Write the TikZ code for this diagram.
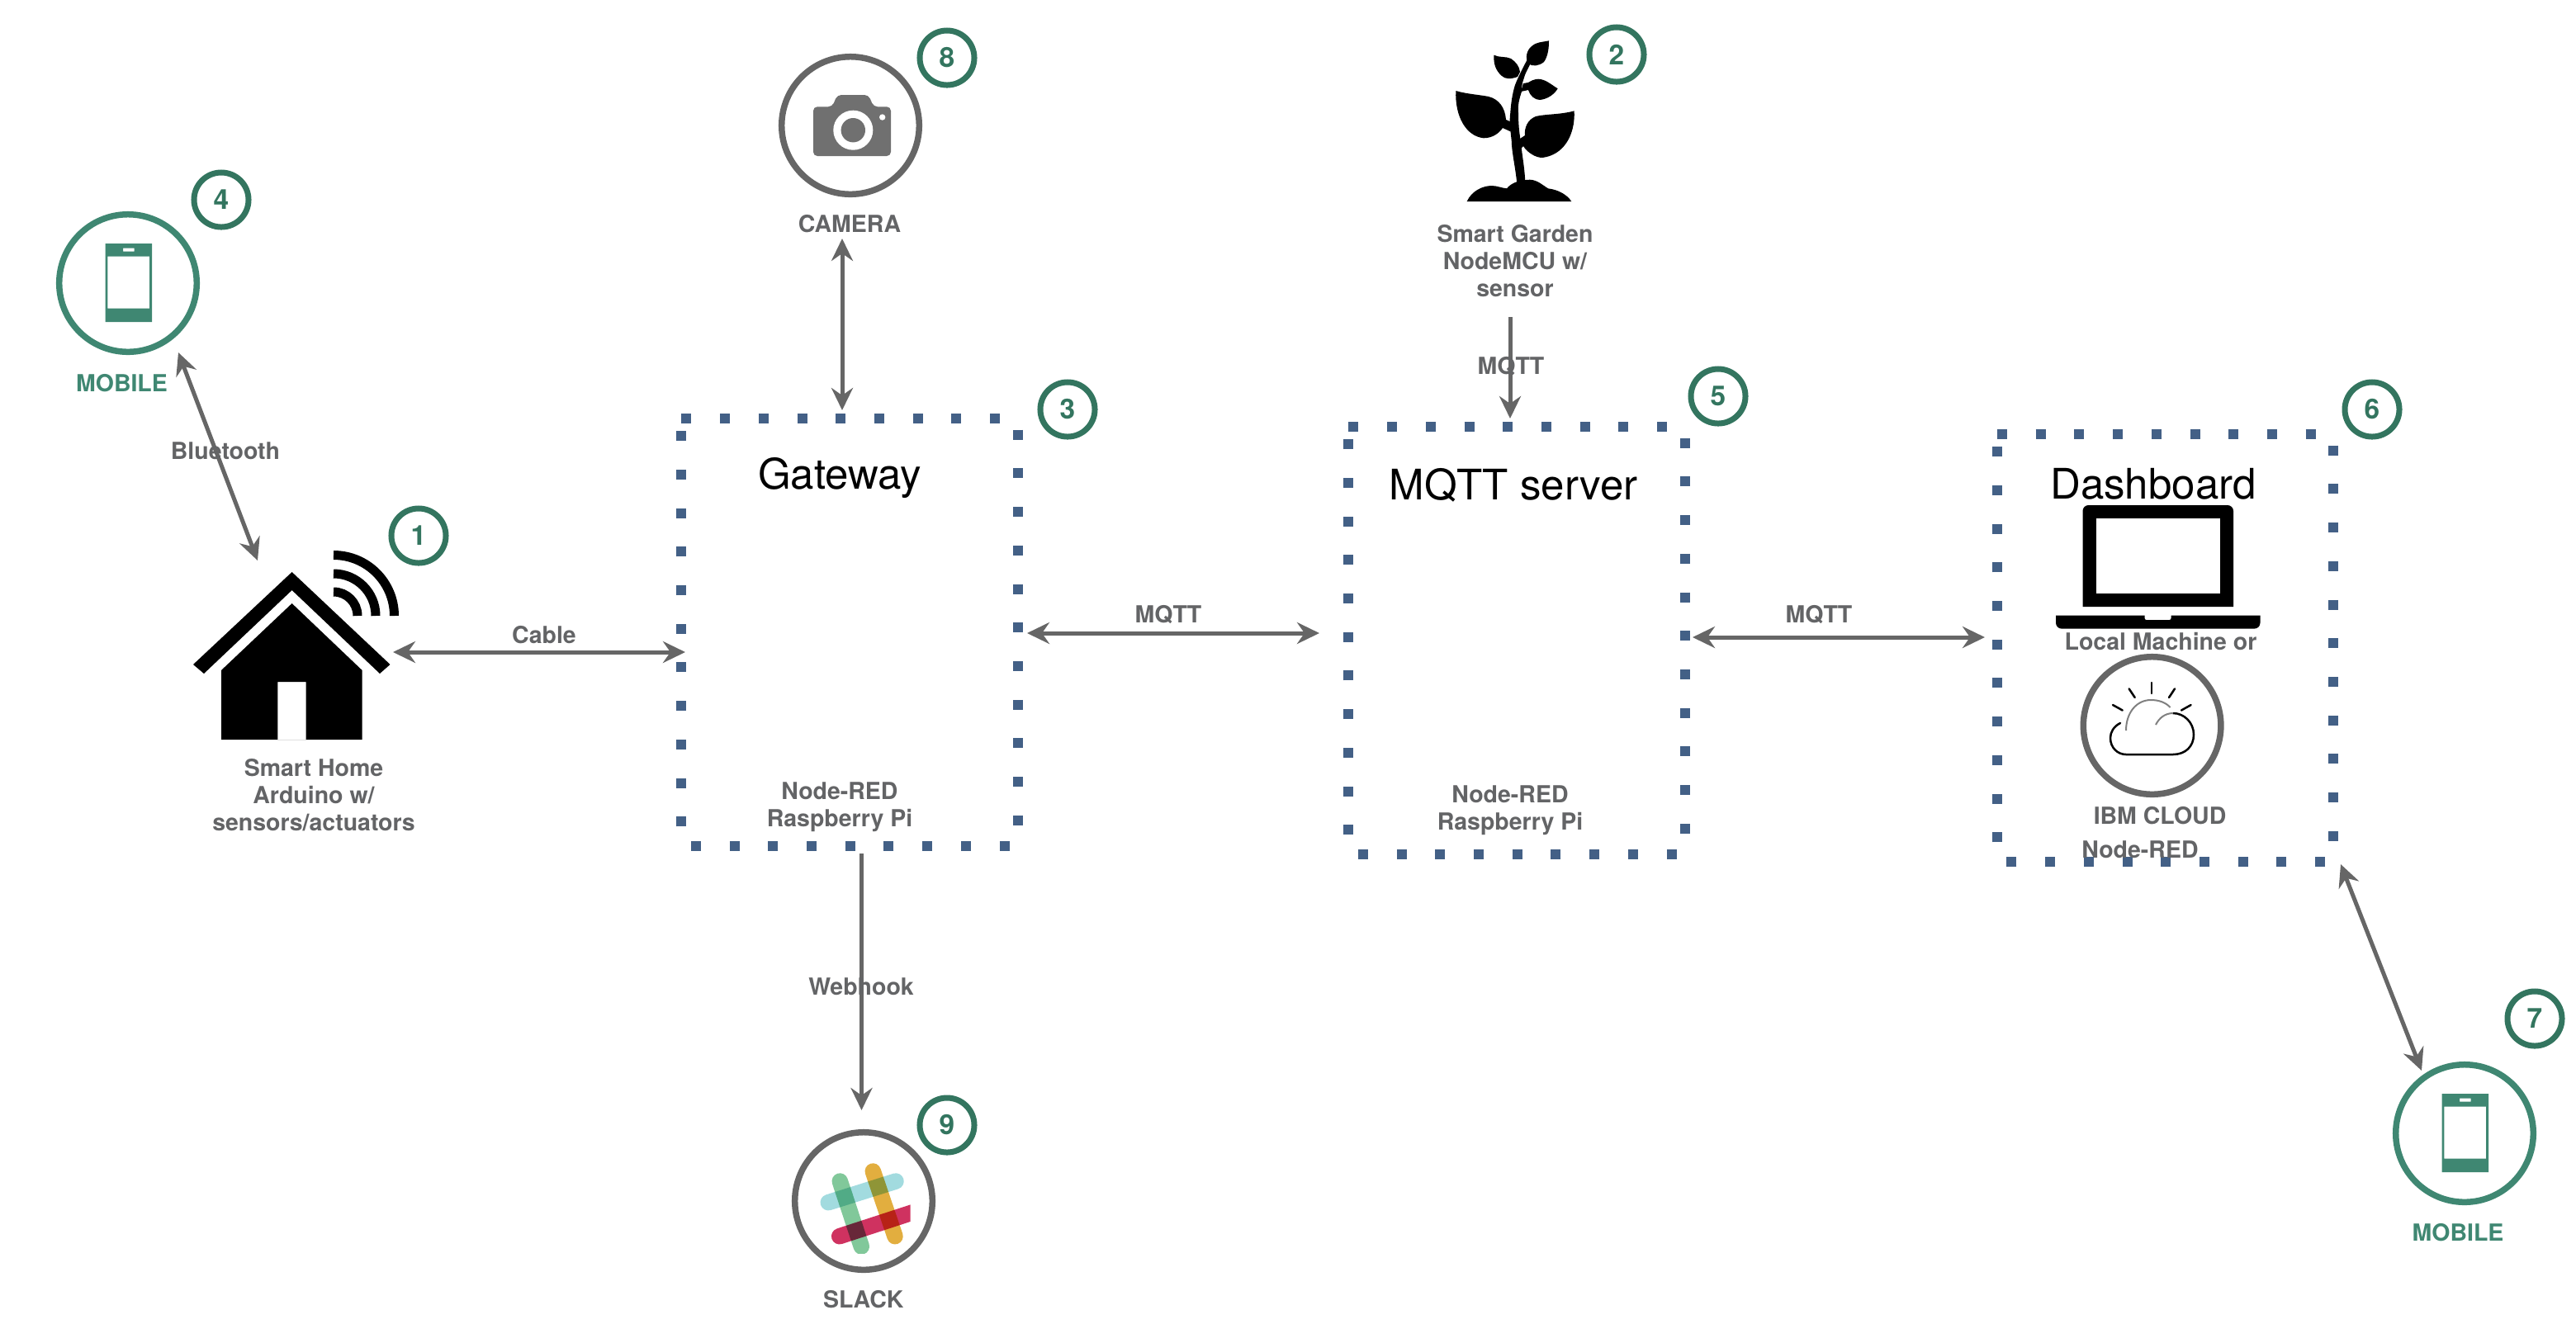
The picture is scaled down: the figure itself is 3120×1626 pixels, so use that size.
\documentclass[tikz,border=0pt]{standalone}
\usepackage{fontspec}
\setmainfont{TeX Gyre Heros}
\usetikzlibrary{arrows.meta}
\definecolor{badgegreen}{HTML}{33755F}
\definecolor{mobilegreen}{HTML}{3F8772}
\definecolor{labelgray}{HTML}{636466}
\definecolor{framegray}{HTML}{666666}
\definecolor{camgray}{HTML}{707070}
\definecolor{dotblue}{HTML}{436086}
\definecolor{slackblue}{HTML}{A2DBDF}
\definecolor{slackgreen}{HTML}{81C89A}
\definecolor{slackyellow}{HTML}{E2AE3F}
\definecolor{slackred}{HTML}{CF3260}
\tikzset{
  link/.style={line width=.05cm, draw=framegray, {Stealth[length=.27cm,width=.26cm,inset=.09cm]}-{Stealth[length=.27cm,width=.26cm,inset=.09cm]}},
  linkto/.style={line width=.05cm, draw=framegray, -{Stealth[length=.27cm,width=.26cm,inset=.09cm]}},
  lbl/.style={text=labelgray, align=center, inner sep=0, font=\fontsize{8.1}{9.4}\selectfont\bfseries},
  title/.style={inner sep=0, font=\fontsize{14.5}{16}\selectfont},
  badge/.style={circle, draw=badgegreen, line width=.07cm, minimum size=.66cm, inner sep=0, outer sep=0, text=badgegreen, font=\fontsize{9.5}{10}\selectfont\bfseries},
  ring/.style={circle, draw=#1, line width=.075cm, minimum size=1.665cm, inner sep=0, outer sep=0},
  boxarea/.style={rectangle, minimum width=4.07cm, minimum height=5.17cm, inner sep=0, outer sep=0},
  dotbox/.style={draw=dotblue, line width=.12cm, dash pattern=on .12cm off .347cm},
  slackbar/.style={line width=.195cm, line cap=round, draw=#1, blend mode=multiply},
  phone/.pic={
    \fill [mobilegreen, even odd rule] (-27.5,-48) rectangle (29,47) (-24.6,-32.5) rectangle (26,30.6) (-6,-42.3) rectangle (7.5,-38.5);
  }
}

\begin{document}
\begin{tikzpicture}[x=.01cm, y=-.01cm]
  \useasboundingbox (0,0) rectangle (3120,1626);

  % dotted frames
  \foreach \n/\x/\y in {gateway/1029/766, mqttserver/1837/776, dashboard/2622.5/785}
  {
    \node (\n) [boxarea] at (\x,\y) {};
    \draw [dotbox] (\n.north west) -- (\n.north east) -- (\n.south east) -- (\n.south west) -- cycle;
  }

  \node (gatewayname) [title] at (1017,579) {Gateway};
  \node (mqttname) [title] at (1833,588) {MQTT server};
  \node (dashname) [title] at (2608,586) {Dashboard};
  \node (gatewaysub) [lbl] at (1017,978) {Node-RED\\Raspberry Pi};
  \node (mqttsub) [lbl] at (1829,982) {Node-RED\\Raspberry Pi};

  % numbered badges
  \foreach \n/\x/\y in {1/507/649, 2/1958/66, 3/1293/496, 4/268/242, 5/2081/480, 6/2873/496, 7/3070/1234, 8/1147/70, 9/1147/1363}
  \node (badge\n) [badge] at (\x,\y) {\n};

  % mobiles
  \node (mobilea) [ring=mobilegreen] at (155,343) {};
  \pic at (mobilea) {phone};
  \node (mobilealbl) [lbl, text=mobilegreen] at (147.5,464) {MOBILE};
  \node (mobileb) [ring=mobilegreen] at (2985,1373) {};
  \pic at (mobileb) {phone};
  \node (mobileblbl) [lbl, text=mobilegreen] at (2977,1493) {MOBILE};

  % house
  \fill [even odd rule] (353.6,693) -- (472.5,805) -- (460,816) -- (353.6,715) -- (247,816) -- (234,805) -- cycle;
  \fill [even odd rule] (353.6,731) -- (438.6,812) -- (438.6,896) -- (268,896) -- (268,812) -- cycle
    (336.4,826) rectangle (370.7,896);
  \foreach \r in {29,51,73.5}
  \draw [line width=.11cm] (404,746-\r) .. controls (404+.552*\r,746-\r) and (404+\r,746-.552*\r) .. (404+\r,746);
  \node (homelbl) [lbl] at (380,963.5) {Smart Home\\Arduino w/\\sensors/actuators};

  % camera
  \node (camera) [ring=framegray] at (1030,152) {};
  \fill [camgray, rounded corners=1.4pt] (985,129.3) -- (1008,129.3) -- (1014,115) -- (1052,115) -- (1058,129.3) -- (1079,129.3) -- (1079,189) -- (985,189) -- cycle;
  \fill [white] (1033.3,157.7) circle [radius=.24cm];
  \fill [camgray] (1033.3,157.7) circle [radius=.147cm];
  \fill [white] (1068.7,142) circle [radius=.037cm];
  \node (cameralbl) [lbl] at (1029,271) {CAMERA};

  % plant
  \fill (1837.3,222) .. controls (1835,200) and (1831,185) .. (1830.7,170) .. controls (1829,155) and (1828,145) .. (1829.3,136.7) .. controls (1830,125) and (1832,112) .. (1835,103) .. controls (1838,95) and (1844,83) .. (1850,71.7) -- (1855,75) .. controls (1852,80) and (1849,86) .. (1847.3,90) .. controls (1845,97) and (1842,105) .. (1843.3,110) .. controls (1840,120) and (1838,128) .. (1839,136.7) .. controls (1839,150) and (1840,160) .. (1841.7,170) .. controls (1843,185) and (1847,205) .. (1847.3,222) -- cycle;
  \fill (1763.3,110) .. controls (1777,114) and (1790,114.5) .. (1803,117) .. controls (1815,120) and (1823,130) .. (1824,145) -- (1831,148) -- (1831,160) -- (1820,155) .. controls (1816,161) and (1808,167.3) .. (1797,167.3) .. controls (1775,165) and (1762,140) .. (1763.3,110) -- cycle;
  \fill (1906.7,134.3) .. controls (1890,139) and (1872,138) .. (1860,141) .. controls (1850,145) and (1846,155) .. (1847,164) -- (1841,168) -- (1842,180) -- (1845,177) .. controls (1850,185) and (1860,191) .. (1868,191) .. controls (1893,188) and (1908,165) .. (1906.7,134.3) -- cycle;
  \fill (1809.3,66.7) .. controls (1816,70) and (1824,68) .. (1830,71) .. controls (1836,75) and (1840,80) .. (1841,87) -- (1838,93) .. controls (1830,96) and (1823,96) .. (1819,92) .. controls (1811,85) and (1809,77) .. (1809.3,66.7) -- cycle;
  \fill (1876,49.3) .. controls (1868,51) and (1860,51) .. (1855,56) .. controls (1849,61) and (1847,70) .. (1851,77) .. controls (1856,81) and (1864,80) .. (1870,75) .. controls (1875,68) and (1876,58) .. (1876,49.3) -- cycle;
  \fill (1886.7,107.3) .. controls (1878,102) and (1872,96) .. (1863,95.7) .. controls (1858,96) and (1854,98) .. (1851,100) -- (1845,101) -- (1842,111) -- (1851,109) .. controls (1853,116) and (1859,121) .. (1865,121) .. controls (1874,120) and (1882,115) .. (1886.7,107.3) -- cycle;
  \fill (1776.7,244) .. controls (1782,232) and (1795,225) .. (1806.7,225) .. controls (1813,225) and (1820,228) .. (1825,228.3) .. controls (1830,222) and (1840,217.7) .. (1853,217.7) .. controls (1862,218) and (1868,224) .. (1875,228.3) .. controls (1888,230) and (1898,236) .. (1903.3,244) -- cycle;
  \node (gardenlbl) [lbl] at (1835,316) {Smart Garden\\NodeMCU w/\\sensor};

  % laptop
  \fill (2522.5,735) [rounded corners=2pt] -- (2522.5,612) -- (2705,612) [sharp corners] -- (2705,735) -- cycle;
  \fill [white] (2538.6,627.5) rectangle (2689,719);
  \fill (2490,745.5) -- (2597.5,745.5) [rounded corners=.6pt] -- (2597.5,751) -- (2629.6,751) [sharp corners] -- (2629.6,745.5) -- (2737.5,745.5) [rounded corners=2pt] -- (2737.5,761.6) -- (2490,761.6) [sharp corners] -- cycle;
  \node (locallbl) [lbl] at (2617,777) {Local Machine or};

  % cloud
  \node (cloud) [ring=framegray] at (2606.6,879) {};
  \draw [line width=.025cm, line cap=round] (2568,876) .. controls (2560,880) and (2556,887) .. (2556,894) .. controls (2556,906) and (2565,914) .. (2575,914) -- (2632,914) .. controls (2647,914) and (2657,904) .. (2657,890) .. controls (2657,875) and (2645,864) .. (2632,864);
  \draw [line width=.02cm, draw=black!50] (2632,864) .. controls (2622,864) and (2615,870) .. (2611,878);
  \draw [line width=.02cm, draw=black!50] (2575,885) .. controls (2575,863) and (2588,848) .. (2605,848) .. controls (2615,848) and (2623,851) .. (2628.6,857);
  \foreach \xa/\ya/\xb/\yb in {2606/827/2606/840, 2578.6/834.4/2585.7/845, 2634/834.4/2627/845, 2559/854/2570.7/860.5, 2653.6/854/2642/860.5}
  \draw [line width=.025cm, line cap=round] (\xa,\ya) -- (\xb,\yb);
  \node (cloudlbl) [lbl] at (2616,988) {IBM CLOUD};
  \node (dashsub) [lbl] at (2592,1029) {Node-RED};

  % slack
  \node (slack) [ring=framegray] at (1046,1455) {};
  \begin{scope}
    \clip (990,1400) rectangle (1102.7,1518.7);
    \draw [slackbar=slackblue] (1003.3,1456.7) -- (1085,1431);
    \draw [slackbar=slackgreen] (1017.3,1431) -- (1043.3,1510);
    \draw [slackbar=slackyellow] (1057.3,1419) -- (1084,1497.7);
    \draw [slackbar=slackred] (1016.7,1497.7) -- (1120,1464);
  \end{scope}
  \node (slacklbl) [lbl] at (1045.7,1574) {SLACK};

  % connector ends
  \coordinate (mobileend) at (216,427);
  \coordinate (hometop) at (312,679);
  \coordinate (homeright) at (476,790);
  \coordinate (gatewayleft) at (830,790);
  \coordinate (camerabottom) at (1020,289);
  \coordinate (gatewaytop) at (1020,497);
  \coordinate (gardenbottom) at (1829,384);
  \coordinate (mqtttop) at (1829,507);
  \coordinate (gatewayright) at (1244,767);
  \coordinate (mqttleft) at (1598,767);
  \coordinate (mqttright) at (2050,772);
  \coordinate (dashleft) at (2404,772);
  \coordinate (gatewaybottom) at (1043.5,1034);
  \coordinate (slacktop) at (1043.5,1345);
  \coordinate (dashcorner) at (2835,1047);
  \coordinate (mobiletop) at (2933,1297);

  \draw [link] (mobileend) -- (hometop);
  \draw [link] (homeright) -- (gatewayleft);
  \draw [link] (camerabottom) -- (gatewaytop);
  \draw [linkto] (gardenbottom) -- (mqtttop);
  \draw [link] (gatewayright) -- (mqttleft);
  \draw [link] (mqttright) -- (dashleft);
  \draw [linkto] (gatewaybottom) -- (slacktop);
  \draw [link] (dashcorner) -- (mobiletop);

  \node (bluetoothlbl) [lbl] at (273,546) {Bluetooth};
  \node (cablelbl) [lbl] at (659,769) {Cable};
  \node (gardenmqtt) [lbl] at (1830,444) {MQTT};
  \node (gatewaymqtt) [lbl] at (1415,745) {MQTT};
  \node (dashmqtt) [lbl] at (2203,745) {MQTT};
  \node (webhooklbl) [lbl] at (1043,1195) {Webhook};
\end{tikzpicture}
\end{document}
